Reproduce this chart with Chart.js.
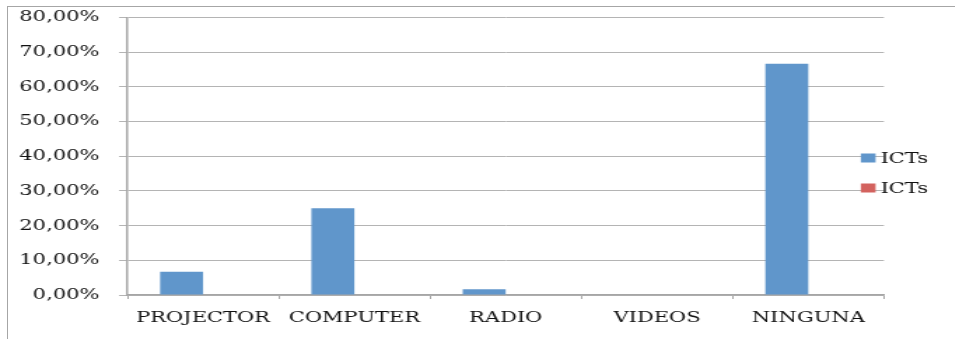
<!DOCTYPE html>
<html>
<head>
<meta charset="utf-8">
<script src="https://cdn.jsdelivr.net/npm/chart.js@4.4.1/dist/chart.umd.min.js"></script>
<style>
  html, body { margin: 0; padding: 0; background: #fff; }
  #page { position: relative; width: 955px; height: 339px; overflow: hidden; }
  #frame { position: absolute; left: 7px; top: 6px; width: 960px; height: 340px;
           border-top: 1px solid #a6a6a6; border-left: 1px solid #a6a6a6; }
  #wrap { position: absolute; left: 0; top: 0; width: 682px; height: 339px;
          transform: scaleX(1.4); transform-origin: 0 0; }
</style>
</head>
<body>
<div id="page">
  <div id="frame"></div>
  <div id="wrap"><canvas id="ictChart"></canvas></div>
</div>
<script>
// categories and series (percent)
var categories = ['PROJECTOR', 'COMPUTER', 'RADIO', 'VIDEOS', 'NINGUNA'];
var ictsBlue   = [6.67, 25.0, 1.67, 0, 66.67];
var ictsRed    = [0, 0, 0, 0, 0];
var seriesNames = ['ICTs', 'ICTs'];
var yTicks = [0, 10, 20, 30, 40, 50, 60, 70, 80];

var serif = "'DejaVu Serif', 'Liberation Serif', serif";

// legend drawn over the right side of the plot, like the original
var sideLegend = {
  id: 'sideLegend',
  afterDraw: function (chart) {
    var ctx = chart.ctx;
    var area = chart.chartArea;
    ctx.save();
    ctx.font = '15px ' + serif;
    ctx.textBaseline = 'middle';
    chart.data.datasets.forEach(function (ds, i) {
      var cy = area.top + 140.5 + i * 30;
      ctx.fillStyle = ds.backgroundColor;
      ctx.fillRect(area.right - 16.5, cy - 4.5, 10.5, 9);
      ctx.fillStyle = '#111';
      ctx.fillText(ds.label, area.right - 2.5, cy + 1);
    });
    ctx.restore();
  }
};

var ictChart = new Chart(document.getElementById('ictChart').getContext('2d'), {
  type: 'bar',
  data: {
    labels: categories,
    datasets: [
      { label: seriesNames[0], data: ictsBlue, backgroundColor: '#6096cb' },
      { label: seriesNames[1], data: ictsRed,  backgroundColor: '#d3625e' }
    ]
  },
  options: {
    responsive: true,
    maintainAspectRatio: false,
    animation: false,
    devicePixelRatio: 1,
    layout: { padding: { top: 17.5, right: 50.6, bottom: 0, left: 0 } },
    categoryPercentage: 0.568,
    barPercentage: 1,
    plugins: {
      legend: { display: false },
      tooltip: { enabled: false }
    },
    scales: {
      x: {
        grid: { drawOnChartArea: false, color: '#a6a6a6', tickLength: 4, offset: true },
        border: { color: '#a6a6a6', width: 1.5 },
        ticks: { color: '#111', font: { family: serif, size: 15 }, padding: 10, maxRotation: 0 },
        afterFit: function (s) { s.height = 44; s.paddingLeft = 0; s.paddingRight = 0; }
      },
      y: {
        min: 0,
        max: 80,
        afterBuildTicks: function (s) { s.ticks = yTicks.map(function (v) { return { value: v }; }); },
        grid: { color: '#b4b4b4', tickLength: 6 },
        border: { color: '#a6a6a6', width: 1.5 },
        ticks: {
          color: '#111',
          font: { family: serif, size: 15 },
          padding: 14,
          callback: function (v) { return v.toFixed(2).replace('.', ',') + '%'; }
        },
        afterFit: function (s) { s.width = 91; s.paddingTop = 0; s.paddingBottom = 0; }
      }
    }
  },
  plugins: [sideLegend]
});
</script>
</body>
</html>
